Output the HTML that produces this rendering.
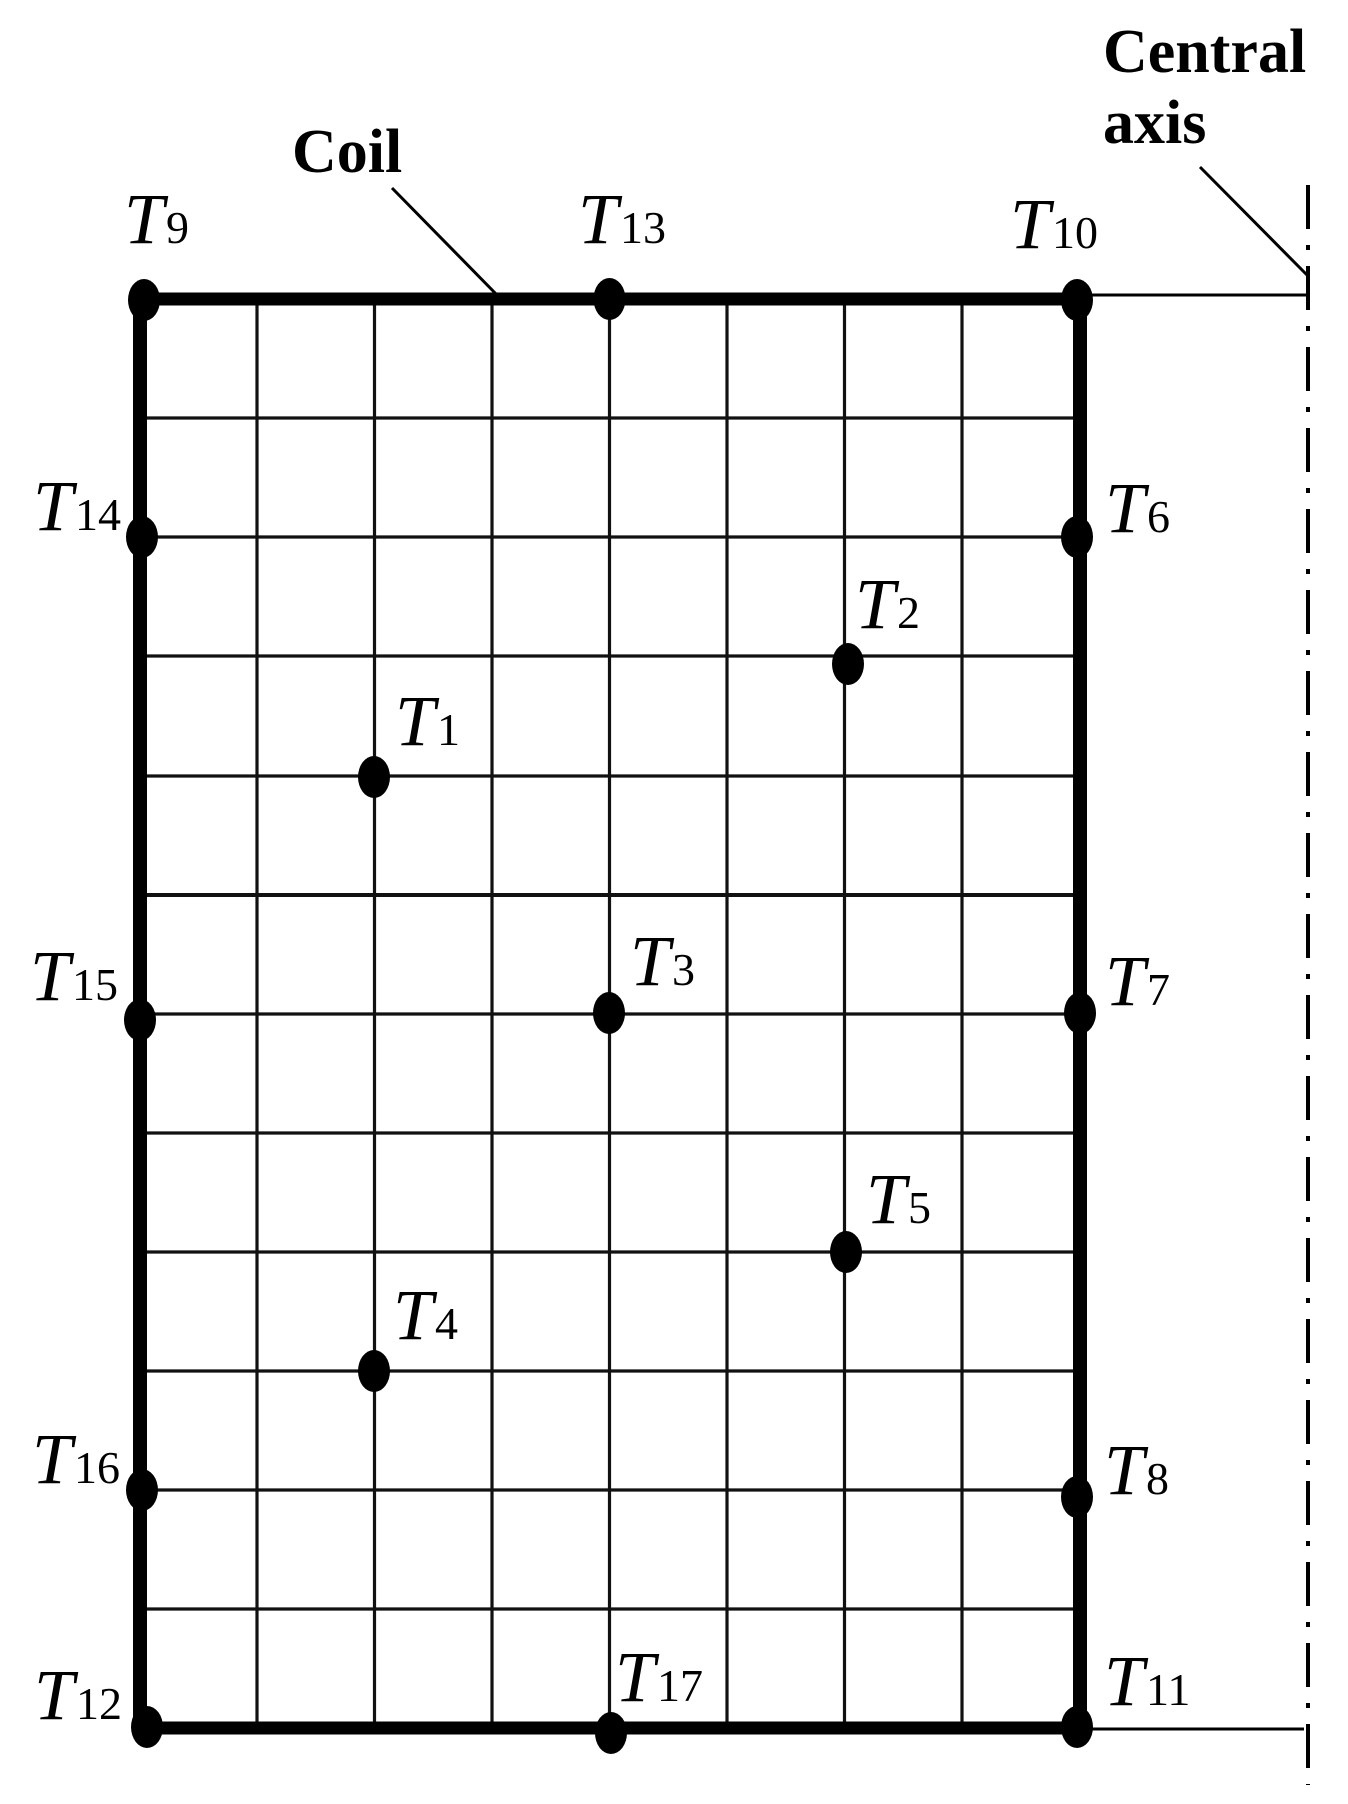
<!DOCTYPE html>
<html><head><meta charset="utf-8"><style>
html,body{margin:0;padding:0;background:#fff;}
svg{display:block;}
.t{font-family:"Liberation Serif",serif;font-style:italic;font-size:72px;fill:#000;}
.s{font-family:"Liberation Serif",serif;font-style:normal;font-size:46px;fill:#000;}
.b{font-family:"Liberation Serif",serif;font-weight:bold;font-size:62px;fill:#000;}
</style></head><body>
<svg width="1348" height="1804" viewBox="0 0 1348 1804" xmlns="http://www.w3.org/2000/svg">
<g stroke="#111" stroke-width="3.2">
<line x1="257" y1="299" x2="257" y2="1728"/>
<line x1="374.5" y1="299" x2="374.5" y2="1728"/>
<line x1="492" y1="299" x2="492" y2="1728"/>
<line x1="609.5" y1="299" x2="609.5" y2="1728"/>
<line x1="727" y1="299" x2="727" y2="1728"/>
<line x1="844.5" y1="299" x2="844.5" y2="1728"/>
<line x1="962" y1="299" x2="962" y2="1728"/>
<line x1="140" y1="418" x2="1080" y2="418"/>
<line x1="140" y1="537" x2="1080" y2="537"/>
<line x1="140" y1="656" x2="1080" y2="656"/>
<line x1="140" y1="776" x2="1080" y2="776"/>
<line x1="140" y1="895" x2="1080" y2="895" stroke-width="4"/>
<line x1="140" y1="1014" x2="1080" y2="1014"/>
<line x1="140" y1="1133" x2="1080" y2="1133"/>
<line x1="140" y1="1252" x2="1080" y2="1252"/>
<line x1="140" y1="1371" x2="1080" y2="1371"/>
<line x1="140" y1="1490" x2="1080" y2="1490"/>
<line x1="140" y1="1609" x2="1080" y2="1609"/>
</g>
<g stroke="#000" stroke-width="13">
<line x1="140" y1="299" x2="1080" y2="299"/>
<line x1="140" y1="1728" x2="1080" y2="1728"/>
<line x1="140" y1="293" x2="140" y2="1735" stroke-width="14"/>
<line x1="1080" y1="293" x2="1080" y2="1735" stroke-width="14"/>
</g>
<g stroke="#000" stroke-width="3">
<line x1="1080" y1="295" x2="1308" y2="295"/>
<line x1="1080" y1="1729" x2="1304" y2="1729"/>
<line x1="1200" y1="167" x2="1307" y2="275"/>
<line x1="392" y1="188" x2="500" y2="298"/>
</g>
<line x1="1308" y1="185" x2="1308" y2="1785" stroke="#000" stroke-width="4" stroke-dasharray="44,16,5,16"/>
<g fill="#000">
<ellipse cx="144" cy="300" rx="16" ry="21"/>
<ellipse cx="609.5" cy="299" rx="16" ry="21"/>
<ellipse cx="1077" cy="300" rx="16" ry="21"/>
<ellipse cx="142" cy="537" rx="16" ry="21"/>
<ellipse cx="1077" cy="537" rx="16" ry="21"/>
<ellipse cx="848" cy="664" rx="16" ry="21"/>
<ellipse cx="374" cy="777" rx="16" ry="21"/>
<ellipse cx="140" cy="1020" rx="16" ry="21"/>
<ellipse cx="609" cy="1013" rx="16" ry="21"/>
<ellipse cx="1080" cy="1013" rx="16" ry="21"/>
<ellipse cx="846" cy="1252" rx="16" ry="21"/>
<ellipse cx="374" cy="1371" rx="16" ry="21"/>
<ellipse cx="142" cy="1490" rx="16" ry="21"/>
<ellipse cx="1077" cy="1497" rx="16" ry="21"/>
<ellipse cx="147" cy="1727" rx="16" ry="21"/>
<ellipse cx="611" cy="1733" rx="16" ry="21"/>
<ellipse cx="1077" cy="1727" rx="16" ry="21"/>
</g>
<text class="b" x="292" y="172">Coil</text>
<text class="b" x="1103" y="72">Central</text>
<text class="b" x="1103" y="143">axis</text>
<text class="t" x="124" y="243">T<tspan class="s" dx="2">9</tspan></text>
<text class="t" x="578" y="243">T<tspan class="s" dx="2">13</tspan></text>
<text class="t" x="1010" y="248">T<tspan class="s" dx="2">10</tspan></text>
<text class="t" x="33" y="530">T<tspan class="s" dx="2">14</tspan></text>
<text class="t" x="1105" y="532">T<tspan class="s" dx="2">6</tspan></text>
<text class="t" x="855" y="628">T<tspan class="s" dx="2">2</tspan></text>
<text class="t" x="395" y="745">T<tspan class="s" dx="2">1</tspan></text>
<text class="t" x="30" y="1000">T<tspan class="s" dx="2">15</tspan></text>
<text class="t" x="630" y="985">T<tspan class="s" dx="2">3</tspan></text>
<text class="t" x="1105" y="1005">T<tspan class="s" dx="2">7</tspan></text>
<text class="t" x="866" y="1223">T<tspan class="s" dx="2">5</tspan></text>
<text class="t" x="393" y="1339">T<tspan class="s" dx="2">4</tspan></text>
<text class="t" x="32" y="1483">T<tspan class="s" dx="2">16</tspan></text>
<text class="t" x="1104" y="1494">T<tspan class="s" dx="2">8</tspan></text>
<text class="t" x="34" y="1719">T<tspan class="s" dx="2">12</tspan></text>
<text class="t" x="615" y="1701">T<tspan class="s" dx="2">17</tspan></text>
<text class="t" x="1104" y="1705">T<tspan class="s" dx="2">11</tspan></text>
</svg>
</body></html>
